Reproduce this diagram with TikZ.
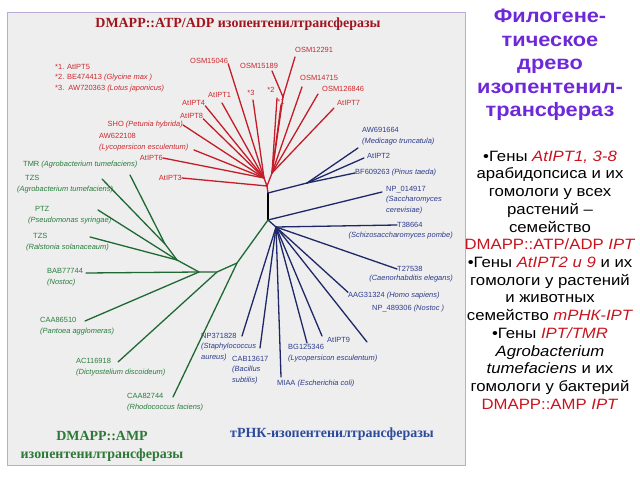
\documentclass[tikz,border=0pt]{standalone}
\usepackage{fontspec}
\setmainfont{Liberation Serif}
\newfontfamily\labfont{Liberation Sans}
\newfontfamily\sidefont[FakeStretch=1.12]{Liberation Sans}
\usetikzlibrary{calc}
\definecolor{iptred}{RGB}{196,28,40}
\definecolor{labred}{RGB}{205,40,45}
\definecolor{titlered}{RGB}{160,20,30}
\definecolor{iptgreen}{RGB}{30,105,50}
\definecolor{labgreen}{RGB}{40,125,60}
\definecolor{titlegreen}{RGB}{45,120,55}
\definecolor{iptblue}{RGB}{30,40,105}
\definecolor{labblue}{RGB}{45,60,140}
\definecolor{titleblue}{RGB}{45,75,155}
\definecolor{iptpurple}{RGB}{110,40,215}
\definecolor{notered}{RGB}{200,20,30}
\definecolor{framefill}{RGB}{238,238,238}
\definecolor{frameedge}{RGB}{185,170,215}

\begin{document}
\begin{tikzpicture}[x=1bp, y=-1bp, line cap=round]
    \tikzset{
        redline/.style={draw=iptred, line width=1.3bp},
        greenline/.style={draw=iptgreen, line width=1.3bp},
        blueline/.style={draw=iptblue, line width=1.3bp},
        rootline/.style={draw=black, line width=1.3bp},
        lab/.style={inner sep=0pt, align=left, font=\labfont\fontsize{7.5}{10.5}\selectfont},
        redlab/.style={lab, text=labred},
        greenlab/.style={lab, text=labgreen},
        bluelab/.style={lab, text=labblue},
        title/.style={inner sep=0pt, align=center, font=\bfseries\fontsize{14}{18}\selectfont}
    }
    \useasboundingbox (0,0) rectangle (640,480);
    \draw[draw=frameedge, fill=framefill, line width=1bp] (7,13) rectangle (465,465);

    % Titles
    \node[title, text=titlered] (ttop) at (238,24) {DMAPP::ATP/ADP изопентенилтрансферазы};
    \node[title, text=titlegreen] (tamp) at (102,446) {DMAPP::AMP\\изопентенилтрансферазы};
    \node[title, text=titleblue] (ttrna) at (332,434) {тРНК-изопентенилтрансферазы};

    % Root
    \coordinate (rroot) at (267,186);
    \coordinate (r1) at (268,193);
    \coordinate (r2) at (268,220);
    \draw[redline] (rroot) -- (r1);
    \draw[rootline] (r1) -- (r2);

    % DMAPP::ATP/ADP clade
    \coordinate (rl) at (264,178);
    \coordinate (rr) at (272,173);
    \coordinate (osmj) at (283,97);
    \node[redlab, anchor=west] (foot) at (55,78) {*1. AtIPT5\\*2. BE474413 \textit{(Glycine max )}\\*3.\ \ AW720363 \textit{(Lotus japonicus)}};
    \node[redlab, anchor=east] (ipt3) at (182,178) {AtIPT3};
    \node[redlab, anchor=east] (ipt6) at (163,158) {AtIPT6};
    \node[redlab, anchor=west] (aw622) at (99,142) {AW622108\\\textit{(Lycopersicon esculentum)}};
    \node[redlab, anchor=east] (sho) at (183,125) {SHO \textit{(Petunia hybrida)}};
    \node[redlab, anchor=west] (ipt8) at (180,116) {AtIPT8};
    \node[redlab, anchor=west] (ipt4) at (182,103) {AtIPT4};
    \node[redlab, anchor=west] (ipt1) at (208,95) {AtIPT1};
    \node[redlab, anchor=west] (osm15046) at (190,61) {OSM15046};
    \node[redlab] (st3) at (251,93) {*3};
    \node[redlab] (st2) at (271,90) {*2};
    \node[redlab] (st1) at (281,102) {*1};
    \node[redlab, anchor=west] (osm15189) at (240,66) {OSM15189};
    \node[redlab, anchor=west] (osm12291) at (295,50) {OSM12291};
    \node[redlab, anchor=west] (osm14715) at (300,78) {OSM14715};
    \node[redlab, anchor=west] (osm126846) at (322,89) {OSM126846};
    \node[redlab, anchor=west] (ipt7) at (337,103) {AtIPT7};
    \coordinate (e622) at (194,150);
    \coordinate (e1) at (222,103);
    \coordinate (e3) at (253,100);
    \coordinate (e2) at (277,98);
    \coordinate (eo189) at (272,71);
    \coordinate (eo291) at (295,57);
    \coordinate (eo715) at (302,87);
    \coordinate (eo846) at (318,94);
    \coordinate (e7) at (334,108);
    \draw[redline] (ipt3.east) -- (rroot);
    \foreach \e in {ipt6.east, e622, sho.east, ipt8.south east, ipt4.south east, e1, osm15046.south east, e3}
        \draw[redline] (\e) -- (rl);
    \foreach \e in {e2, st1.south, osmj, eo715, eo846, e7}
        \draw[redline] (\e) -- (rr);
    \draw[redline] (eo189) -- (osmj) -- (eo291);
    \draw[redline] (rl) -- (rroot) -- (rr);

    % tRNA clade
    \coordinate (bu) at (307,183);
    \coordinate (bl) at (276,227);
    \node[bluelab, anchor=west] (aw691) at (362,136) {AW691664\\\textit{(Medicago truncatula)}};
    \node[bluelab, anchor=west] (ipt2) at (367,156) {AtIPT2};
    \node[bluelab, anchor=west] (bf) at (355,173) {BF609263 \textit{(Pinus taeda)}};
    \node[bluelab, anchor=west] (np014) at (386,200) {NP\_014917\\\textit{(Saccharomyces}\\\textit{cerevisiae)}};
    \node[bluelab, anchor=west] (t386) at (397,225) {T38664};
    \node[bluelab, anchor=east] (schizo) at (453,236) {\textit{(Schizosaccharomyces pombe)}};
    \node[bluelab, anchor=west] (t275) at (397,269) {T27538};
    \node[bluelab, anchor=east] (caeno) at (453,279) {\textit{(Caenorhabditis elegans)}};
    \node[bluelab, anchor=west] (aag) at (348,296) {AAG31324 \textit{(Homo sapiens)}};
    \node[bluelab, anchor=west] (np489) at (372,309) {NP\_489306 \textit{(Nostoc )}};
    \node[bluelab, anchor=west] (ipt9) at (327,340) {AtIPT9};
    \node[bluelab, anchor=west] (bg) at (288,353) {BG125346\\\textit{(Lycopersicon esculentum)}};
    \node[bluelab, anchor=west] (miaa) at (277,384) {MIAA \textit{(Escherichia coli)}};
    \node[bluelab, anchor=west] (cab) at (232,370) {CAB13617\\\textit{(Bacillus}\\\textit{subtilis)}};
    \node[bluelab, anchor=west] (np371) at (201,347) {NP371828\\\textit{(Staphylococcus}\\\textit{aureus)}};
    \coordinate (eaw) at (358,148);
    \coordinate (eipt2) at (364,158);
    \coordinate (enp014) at (382,192);
    \coordinate (enp489) at (367,342);
    \coordinate (eipt9) at (322,336);
    \coordinate (ebg) at (307,343);
    \coordinate (emiaa) at (281,377);
    \coordinate (ecab) at (260,348);
    \coordinate (enp371) at (242,336);
    \draw[blueline] (r1) -- (bu);
    \foreach \e in {eaw, eipt2, bf.west}
        \draw[blueline] (bu) -- (\e);
    \draw[blueline] (r2) -- (enp014);
    \draw[blueline] (r2) -- (bl);
    \foreach \e in {t386.west, t275.west, aag.north west, enp489, eipt9, ebg, emiaa, ecab, enp371}
        \draw[blueline] (bl) -- (\e);

    % DMAPP::AMP clade
    \coordinate (ga) at (237,263);
    \coordinate (gb) at (217,272);
    \coordinate (gc) at (199,272);
    \coordinate (gd) at (177,260);
    \coordinate (ge) at (165,244);
    \node[greenlab, anchor=west] (tmr) at (23,165) {TMR \textit{(Agrobacterium tumefaciens)}};
    \node[greenlab, anchor=west] (tzsa) at (17,184) {\hspace*{8bp}TZS\\\textit{(Agrobacterium tumefaciens)}};
    \node[greenlab, anchor=west] (ptz) at (28,215) {\hspace*{7bp}PTZ\\\textit{(Pseudomonas syringae)}};
    \node[greenlab, anchor=west] (tzsr) at (26,242) {\hspace*{7bp}TZS\\\textit{(Ralstonia solanaceaum)}};
    \node[greenlab, anchor=west] (bab) at (47,277) {BAB77744\\\textit{(Nostoc)}};
    \node[greenlab, anchor=west] (caa865) at (40,326) {CAA86510\\\textit{(Pantoea agglomeras)}};
    \node[greenlab, anchor=west] (ac116) at (76,367) {AC116918\\\textit{(Dictyostelium discoideum)}};
    \node[greenlab, anchor=west] (caa827) at (127,402) {CAA82744\\\textit{(Rhodococcus faciens)}};
    \coordinate (etmr) at (130,175);
    \coordinate (etzsa) at (102,179);
    \coordinate (eptz) at (98,210);
    \coordinate (etzsr) at (90,237);
    \coordinate (ebab) at (86,273);
    \coordinate (ecaa865) at (85,321);
    \coordinate (eac116) at (118,362);
    \coordinate (ecaa827) at (173,397);
    \draw[greenline] (r2) -- (ga) -- (gb) -- (gc) -- (gd) -- (ge);
    \draw[greenline] (ge) -- (etmr);
    \draw[greenline] (ge) -- (etzsa);
    \draw[greenline] (gd) -- (eptz);
    \draw[greenline] (gd) -- (etzsr);
    \draw[greenline] (gc) -- (ebab);
    \draw[greenline] (gc) -- (ecaa865);
    \draw[greenline] (gb) -- (eac116);
    \draw[greenline] (ga) -- (ecaa827);

    % Side text
    \node[align=center, inner sep=0pt, text=iptpurple, font=\sidefont\bfseries\fontsize{19.5}{23.5}\selectfont] (head) at (550,65)
        {Филогене-\\тическое\\древо\\изопентенил-\\трансфераз};
    \node[align=center, inner sep=0pt, font=\sidefont\fontsize{15}{17.8}\selectfont] (notes) at (550,280)
        {•Гены \textcolor{notered}{\textit{AtIPT1, 3-8}}\\
         арабидопсиса и их\\
         гомологи у всех\\
         растений –\\
         семейство\\
         \textcolor{notered}{DMAPP::ATP/ADP \textit{IPT}}\\
         •Гены \textcolor{notered}{\textit{AtIPT2 и 9}} и их\\
         гомологи у растений\\
         и животных\\
         семейство \textcolor{notered}{\textit{тРНК-IPT}}\\
         •Гены \textcolor{notered}{\textit{IPT/TMR}}\\
         \textit{Agrobacterium}\\
         \textit{tumefaciens} и их\\
         гомологи у бактерий\\
         \textcolor{notered}{DMAPP::AMP \textit{IPT}}};
\end{tikzpicture}
\end{document}
